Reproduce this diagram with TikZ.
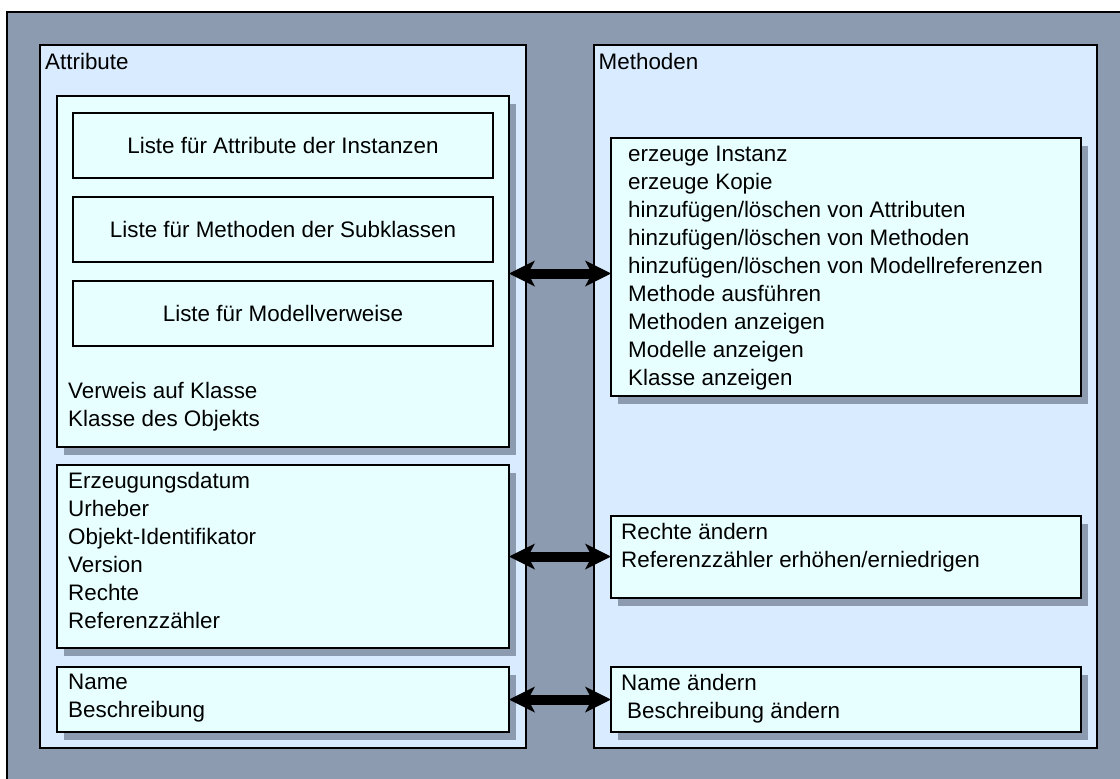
\documentclass[tikz,border=0pt]{standalone}
\usepackage{fontspec}
\setmainfont{Liberation Sans}
\usetikzlibrary{arrows.meta,shadows}

\definecolor{slate}{HTML}{8C9BB0}
\definecolor{paneblue}{HTML}{D9ECFF}
\definecolor{boxcyan}{HTML}{E8FFFF}

\newcommand\boxfont{\fontsize{22.4}{28}\selectfont}

\tikzset{
  area/.style={rectangle, draw=black, line width=1.4pt, anchor=north west,
               inner sep=0pt, outer sep=0pt},
  frame/.style={area, fill=slate},
  panel/.style={area, fill=paneblue},
  card/.style={area, fill=boxcyan,
               drop shadow={shadow xshift=7pt, shadow yshift=-8pt,
                            fill=slate, opacity=1}},
  listbox/.style={area, fill=boxcyan, font=\boxfont,
                  minimum width=420pt, minimum height=65pt},
  % text blocks are placed by the baseline of their first line
  label/.style={anchor=north west, inner sep=0pt, align=left,
                font=\boxfont, yshift=19.6pt},
  link/.style={line width=10pt,
    {Stealth[length=26pt,width=26pt,inset=7pt,line width=0pt]}-{Stealth[length=26pt,width=26pt,inset=7pt,line width=0pt]}}
}

\begin{document}
\begin{tikzpicture}[x=1pt,y=-1pt]
  \useasboundingbox (0,0) rectangle (1120,779);

  % background frame
  \node[frame, minimum width=1130pt, minimum height=790pt] (frame) at (7,12) {};

  % the two panels
  \node[panel, minimum width=486pt, minimum height=703pt] (attr) at (40,45) {};
  \node[panel, minimum width=503pt, minimum height=703pt] (meth) at (594,45) {};
  \node[label] (attrtitle) at (45,69) {\strut Attribute};
  \node[label] (methtitle) at (598.5,69) {\strut Methoden};

  % attribute side
  \node[card, minimum width=452pt, minimum height=351pt] (a1) at (57,96) {};
  \node[card, minimum width=452pt, minimum height=183pt] (a2) at (57,465) {};
  \node[card, minimum width=452pt, minimum height=65pt]  (a3) at (57,667) {};

  \node[listbox] (l1) at (73,113) {Liste für Attribute der Instanzen};
  \node[listbox] (l2) at (73,197) {Liste für Methoden der Subklassen};
  \node[listbox] (l3) at (73,281) {Liste für Modellverweise};

  \node[label] (a1text) at (68,398) {\strut Verweis auf Klasse\\Klasse des Objekts};
  \node[label] (a2text) at (68,488) {\strut Erzeugungsdatum\\Urheber\\Objekt-Identifikator\\Version\\Rechte\\Referenzzähler};
  \node[label] (a3text) at (68,689) {\strut Name\\Beschreibung};

  % method side
  \node[card, minimum width=470pt, minimum height=258pt] (m1) at (611,138) {};
  \node[card, minimum width=470pt, minimum height=82pt]  (m2) at (611,516) {};
  \node[card, minimum width=470pt, minimum height=65pt]  (m3) at (611,667) {};

  \node[label] (m1text) at (628,161) {\strut erzeuge Instanz\\erzeuge Kopie\\hinzufügen/löschen von Attributen\\hinzufügen/löschen von Methoden\\hinzufügen/löschen von Modellreferenzen\\Methode ausführen\\Methoden anzeigen\\Modelle anzeigen\\Klasse anzeigen};
  \node[label] (m2text) at (621,539) {\strut Rechte ändern\\Referenzzähler erhöhen/erniedrigen};
  \node[label] (m3text) at (621,690) {\strut Name ändern\\\hspace*{6pt}Beschreibung ändern};

  % connections between attributes and methods
  \draw[link] ([yshift=-2pt]a1.east) -- ([yshift=-2pt]a1.east -| m1.west);
  \draw[link] (a2.east) -- (a2.east -| m2.west);
  \draw[link] (a3.east) -- (m3.west);
\end{tikzpicture}
\end{document}
